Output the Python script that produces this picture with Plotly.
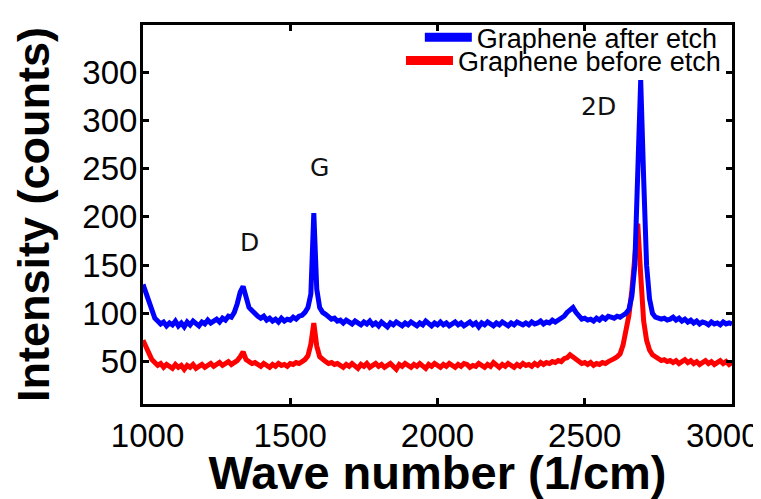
import plotly.graph_objects as go

# Wavenumber grid (1/cm), 10 cm^-1 steps from 1000 to 3000
wavenumber = list(range(1000, 3001, 10))

after_etch = [
    130, 121, 110, 100, 95, 92, 89, 91, 87, 90,
    88, 92, 87, 90, 86, 91, 88, 92, 89, 87,
    91, 89, 93, 90, 92, 94, 91, 95, 93, 97,
    96, 101, 110, 122, 128, 114, 106, 103, 99, 97,
    95, 97, 93, 95, 92, 94, 91, 95, 92, 94,
    93, 96, 94, 97, 98, 101, 106, 120, 204, 125,
    106, 101, 99, 96, 94, 95, 92, 93, 90, 93,
    91, 89, 92, 90, 88, 91, 89, 92, 88, 90,
    87, 91, 89, 86, 90, 88, 91, 89, 87, 90,
    88, 91, 89, 87, 90, 88, 92, 89, 87, 90,
    88, 91, 88, 90, 87, 89, 91, 88, 90, 87,
    89, 91, 88, 90, 86, 90, 88, 91, 89, 87,
    90, 88, 91, 89, 87, 90, 88, 91, 89, 88,
    90, 88, 91, 89, 90, 92, 89, 91, 90, 93,
    91, 93, 95, 97, 101, 104, 106, 101, 97, 94,
    95, 93, 94, 92, 95, 93, 96, 94, 97, 96,
    95, 97, 96, 98, 100, 104, 118, 150, 255, 342,
    240, 150, 115, 100, 96, 95, 94, 95, 93, 94,
    96, 93, 95, 92, 94, 91, 93, 90, 92, 89,
    91, 90, 88, 91, 89, 90, 88, 91, 89, 90,
    89,
]

before_etch = [
    72, 66, 58, 52, 49, 46, 48, 44, 47, 45,
    43, 47, 44, 46, 42, 46, 44, 47, 43, 45,
    47, 44, 46, 48, 45, 47, 49, 46, 48, 50,
    47, 49, 51, 55, 60, 52, 50, 48, 49, 47,
    45, 48, 46, 44, 47, 45, 48, 46, 47, 45,
    48, 47, 49, 48, 50, 52, 56, 68, 90, 66,
    55, 52, 50, 48, 49, 47, 48, 46, 44, 47,
    45, 48, 46, 43, 47, 45, 48, 44, 46, 48,
    45, 47, 44, 46, 48, 45, 42, 47, 45, 48,
    46, 44, 47, 45, 48, 46, 43, 47, 45, 48,
    46, 44, 47, 45, 48, 46, 44, 47, 45, 48,
    47, 44, 46, 45, 48, 46, 44, 47, 45, 49,
    46, 44, 47, 45, 48, 46, 44, 47, 45, 48,
    46, 47, 45, 48, 46, 49, 47, 49, 48, 50,
    49, 51, 50, 53, 54, 57, 55, 52, 50, 48,
    49, 47, 49, 46, 48, 47, 49, 48, 50, 51,
    53, 55, 58, 67, 80, 98, 124, 160, 193, 140,
    92, 72, 62, 57, 55, 53, 51, 52, 50, 51,
    49, 51, 48, 50, 52, 49, 51, 48, 50, 47,
    49, 51, 48, 50, 47, 49, 51, 48, 50, 47,
    49,
]

y_tick_vals = [50, 100, 150, 200, 250, 300, 350]
y_tick_text = ["50", "100", "150", "200", "250", "300", "300"]
x_tick_vals = [1000, 1500, 2000, 2500, 3000]
x_tick_text = ["\u00a01000", "1500", "2000", "2500",
               "3000<span style='color:rgba(255,255,255,0)'>0</span>"]

peak_labels = ["D", "G", "2D"]
peak_label_x = [1363, 1601, 2546]
peak_label_y = [173, 251, 314]

series_names = ["Graphene after etch", "Graphene before etch"]
series_colors = ["#0000ff", "#ff0000"]

fig = go.Figure()
# data lines (legend handled by legend-only entries below)
fig.add_trace(go.Scatter(x=wavenumber, y=before_etch, mode="lines",
                         name=series_names[1], showlegend=False,
                         line=dict(color=series_colors[1], width=5)))
fig.add_trace(go.Scatter(x=wavenumber, y=after_etch, mode="lines",
                         name=series_names[0], showlegend=False,
                         line=dict(color=series_colors[0], width=5)))
# legend entries with thick key lines, one legend per entry
fig.add_trace(go.Scatter(x=[None], y=[None], mode="lines",
                         name=series_names[0], legend="legend",
                         line=dict(color=series_colors[0], width=9)))
fig.add_trace(go.Scatter(x=[None], y=[None], mode="lines",
                         name=series_names[1], legend="legend2",
                         line=dict(color=series_colors[1], width=9)))

for t, xx, yy in zip(peak_labels, peak_label_x, peak_label_y):
    fig.add_annotation(x=xx, y=yy, text=t, showarrow=False,
                       font=dict(family="DejaVu Sans", size=25, color="#111"))

axis_common = dict(showline=True, linecolor="black", linewidth=3, mirror="ticks",
                   ticks="inside", ticklen=6, tickwidth=3, tickcolor="black",
                   showgrid=False, zeroline=False, automargin=False,
                   tickfont=dict(family="Liberation Sans, Arial", size=33, color="black"))

fig.update_xaxes(range=[1000, 3000], tickvals=x_tick_vals, ticktext=x_tick_text,
                 ticklabeloverflow="allow",
                 title=dict(text="<b>Wave number (1/cm)</b>", standoff=2,
                            font=dict(family="Liberation Sans, Arial", size=47, color="black")),
                 **axis_common)
fig.update_yaxes(range=[6, 399], tickvals=y_tick_vals, ticktext=y_tick_text,
                 ticklabelstandoff=-4,
                 title=dict(text="<b>Intensity (counts)</b>", standoff=32,
                            font=dict(family="Liberation Sans, Arial", size=45, color="black")),
                 **axis_common)

legend_font = dict(family="Liberation Sans, Arial", size=27, color="black")
# page body has an 8px margin, so the figure is sized/positioned to compensate
fig.update_layout(
    width=753, height=491,
    margin=dict(l=135, r=29, t=5, b=95),
    plot_bgcolor="white", paper_bgcolor="white",
    showlegend=True,
    legend=dict(x=0.470, y=0.9668, xanchor="left", yanchor="middle",
                bgcolor="rgba(255,255,255,0)", borderwidth=0, font=legend_font, itemwidth=47),
    legend2=dict(x=0.438, y=0.905, xanchor="left", yanchor="middle",
                 bgcolor="rgba(255,255,255,0)", borderwidth=0, font=legend_font, itemwidth=47),
)

fig.write_html("out.html")
